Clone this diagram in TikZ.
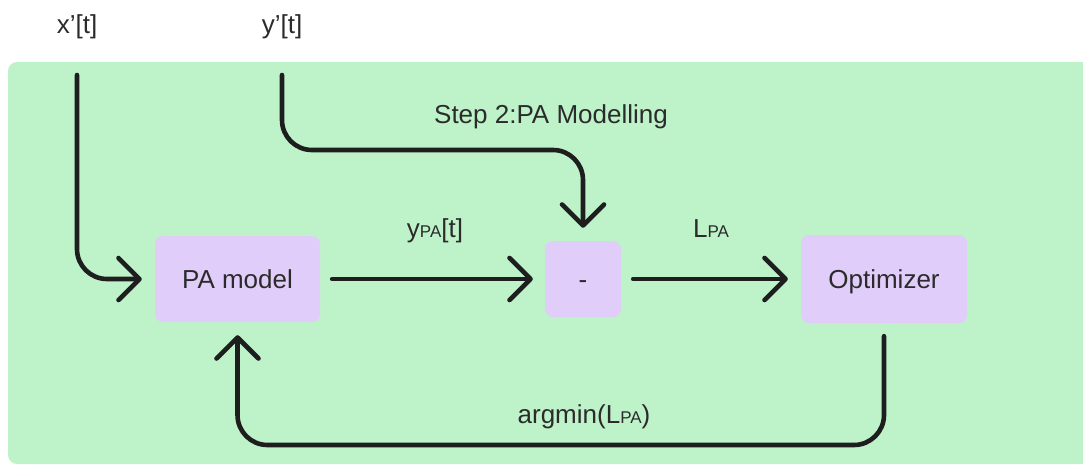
\documentclass[tikz,border=0pt]{standalone}
\usepackage{fontspec}
\setmainfont{Liberation Sans}
\usetikzlibrary{arrows.meta,calc}
\definecolor{bggreen}{HTML}{BEF2C9}
\definecolor{boxlav}{HTML}{E0CDFA}
\definecolor{txt}{HTML}{2B2B2B}
\definecolor{ln}{HTML}{1E1E1E}
\newcommand{\pasub}{{\fontsize{17pt}{20pt}\selectfont PA}}
\begin{document}
\begin{tikzpicture}[x=1pt,y=-1pt,
  box/.style={fill=boxlav, rounded corners=8pt, inner sep=0pt, text=txt,
    text height=19pt, text depth=0pt,
    font=\fontsize{26pt}{30pt}\selectfont},
  lbl/.style={text=txt, inner sep=0pt, text height=19pt, text depth=0pt,
    font=\fontsize{26pt}{30pt}\selectfont},
  arr/.style={draw=ln, line width=4.6pt, line cap=round, line join=round,
    rounded corners=30pt, -{Straight Barb[length=21pt,width=42pt,round]}}]
\useasboundingbox (0,0) rectangle (1083,466);
\begin{scope}
\clip (0,0) rectangle (1083,466);
\fill[bggreen, rounded corners=9pt] (8,62) rectangle (1110,464);
\end{scope}
\node[box, minimum width=165pt, minimum height=86pt] (pa) at (237.5,279) {PA model};
\node[box, minimum width=76pt, minimum height=76pt] (minus) at (583,279) {-};
\node[box, minimum width=166pt, minimum height=88pt] (opt) at (884,279) {Optimizer};
\node[lbl] (xin) at (77,24) {x’[t]};
\node[lbl] (yin) at (282,24) {y’[t]};
\node[lbl] (step) at (551,114) {Step 2:PA Modelling};
\node[lbl] (ypa) at (435,228) {y\pasub[t]};
\node[lbl] (lpa) at (711,228) {L\pasub};
\node[lbl] (amin) at (584,414) {argmin(L\pasub)};
\coordinate (xs) at (77,75);
\coordinate (ys) at (282,75);
\draw[arr] (xs) |- ($(pa.west)+(-13,0)$);
\draw[arr] (ys) -- (282,150) -- (583,150) -- ($(minus.north)+(0,-13)$);
\draw[arr, rounded corners=0pt] ($(pa.east)+(12,0)$) -- ($(minus.west)+(-12,0)$);
\draw[arr, rounded corners=0pt] ($(minus.east)+(12,0)$) -- ($(opt.west)+(-13,0)$);
\draw[arr] ($(opt.south)+(0,13)$) -- (884,445) -- (237.5,445) -- ($(pa.south)+(0,13)$);
\end{tikzpicture}
\end{document}
